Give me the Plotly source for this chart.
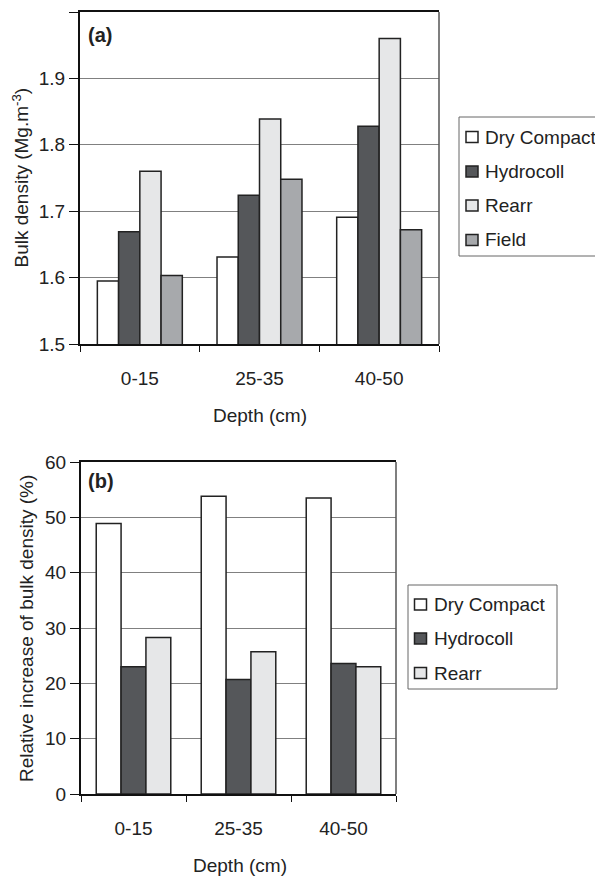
import plotly.graph_objects as go

W, H = 603, 876
OFF = 8  # default page body margin; figure is sized so it fills the window exactly
FW, FH = W - OFF, H - OFF

depths = ["0-15", "25-35", "40-50"]

# Panel (a): bulk density (Mg.m-3)
bd_dry = [1.595, 1.631, 1.691]
bd_hydro = [1.669, 1.724, 1.828]
bd_rearr = [1.760, 1.839, 1.960]
bd_field = [1.603, 1.748, 1.672]

# Panel (b): relative increase of bulk density (%)
ri_dry = [48.9, 53.8, 53.5]
ri_hydro = [23.0, 20.7, 23.6]
ri_rearr = [28.3, 25.7, 23.0]

names = ["Dry Compact", "Hydrocoll", "Rearr", "Field"]
colors = ["#ffffff", "#55575a", "#e6e7e8", "#a7a9ac"]

FONT = "Liberation Sans, Arial, sans-serif"
FS = 19
EDGE = "#222"


def px(x):
    return (x - OFF) / FW


def py(y):
    return 1 - (y - OFF) / FH


fig = go.Figure()

for nm, vals, col in zip(names, [bd_dry, bd_hydro, bd_rearr, bd_field], colors):
    fig.add_trace(go.Bar(x=depths, y=vals, name=nm, showlegend=False,
                         marker=dict(color=col, line=dict(color=EDGE, width=1.5)),
                         xaxis="x", yaxis="y"))

for nm, vals, col in zip(names[:3], [ri_dry, ri_hydro, ri_rearr], colors[:3]):
    fig.add_trace(go.Bar(x=depths, y=vals, name=nm, showlegend=False,
                         marker=dict(color=col, line=dict(color=EDGE, width=1.5)),
                         xaxis="x2", yaxis="y2"))

# plot areas (pixels in the window)
A = dict(l=80, r=439, t=12, b=344)
B = dict(l=81, r=396, t=462, b=794)

common_x = dict(type="category", showline=True, linecolor="#111", linewidth=2, mirror=True,
                ticks="outside", tickson="boundaries", ticklen=6, tickcolor="#111", tickwidth=1,
                showgrid=False, tickfont=dict(family=FONT, size=FS, color="#222"),
                ticklabelstandoff=16, automargin=False, fixedrange=True)
common_y = dict(showline=True, linecolor="#111", linewidth=2, ticks="outside", ticklen=9,
                tickcolor="#111", showgrid=True, gridcolor="#808080", gridwidth=1,
                tickfont=dict(family=FONT, size=FS, color="#222"), zeroline=False,
                automargin=False, fixedrange=True)

fig.update_layout(
    width=FW, height=FH,
    margin=dict(l=0, r=0, t=0, b=0, autoexpand=False),
    paper_bgcolor="white", plot_bgcolor="white",
    barmode="group", bargap=0.29, bargroupgap=0,
    showlegend=False,
    xaxis=dict(domain=[px(A["l"]), px(A["r"])], anchor="y", **common_x),
    yaxis=dict(domain=[py(A["b"]), py(A["t"])], anchor="x", range=[1.5, 2.0], dtick=0.1,
               tickformat=".1f", **common_y),
    xaxis2=dict(domain=[px(B["l"]), px(B["r"])], anchor="y2", **common_x),
    yaxis2=dict(domain=[py(B["b"]), py(B["t"])], anchor="x2", range=[0, 60], dtick=10, **common_y),
    font=dict(family=FONT, size=FS, color="#222"),
)

# right frame edges (gray)
for P in (A, B):
    fig.add_shape(type="line", xref="paper", yref="paper", x0=px(P["r"]), x1=px(P["r"]),
                  y0=py(P["b"]), y1=py(P["t"]), line=dict(color="#555", width=1.5))

ann = [
    dict(text="Bulk density (Mg.m<sup>-3</sup>)", x=px(20.5), y=py(178), textangle=-90),
    dict(text="Depth (cm)", x=px(260), y=py(415)),
    dict(text="Relative increase of bulk density (%)", x=px(26), y=py(629), textangle=-90),
    dict(text="Depth (cm)", x=px(240), y=py(865)),
]
for a in ann:
    fig.add_annotation(xref="paper", yref="paper", showarrow=False, xanchor="center", yanchor="middle",
                       font=dict(family=FONT, size=FS, color="#222"), **a)
for txt, x, y in [("<b>(a)</b>", 100, 35), ("<b>(b)</b>", 100.5, 481)]:
    fig.add_annotation(xref="paper", yref="paper", showarrow=False, xanchor="center", yanchor="middle",
                       text=txt, x=px(x), y=py(y), font=dict(family=FONT, size=20, color="#222"))


# legends (box, swatches, real text labels)
def legend(box, sw_x, text_x, y_centers, labels, cols):
    x0, y0, x1, y1 = box
    fig.add_shape(type="rect", xref="paper", yref="paper", x0=px(x0), x1=px(x1), y0=py(y1), y1=py(y0),
                  line=dict(color="#666", width=1), fillcolor="white", layer="above")
    for yc, lab, col in zip(y_centers, labels, cols):
        fig.add_shape(type="rect", xref="paper", yref="paper", x0=px(sw_x), x1=px(sw_x + 12),
                      y0=py(yc + 5.5), y1=py(yc - 5.5), fillcolor=col,
                      line=dict(color=EDGE, width=1.5), layer="above")
        fig.add_annotation(xref="paper", yref="paper", showarrow=False, xanchor="left", yanchor="middle",
                           text=lab, x=px(text_x), y=py(yc), borderpad=0,
                           font=dict(family=FONT, size=FS, color="#222"))


legend((459, 117, 604, 256), 466, 484, [137, 171.5, 205.5, 240], names, colors)
legend((408, 585, 557, 689), 414.5, 433, [604.5, 638.5, 673], names[:3], colors[:3])

fig.write_html("out.html")
